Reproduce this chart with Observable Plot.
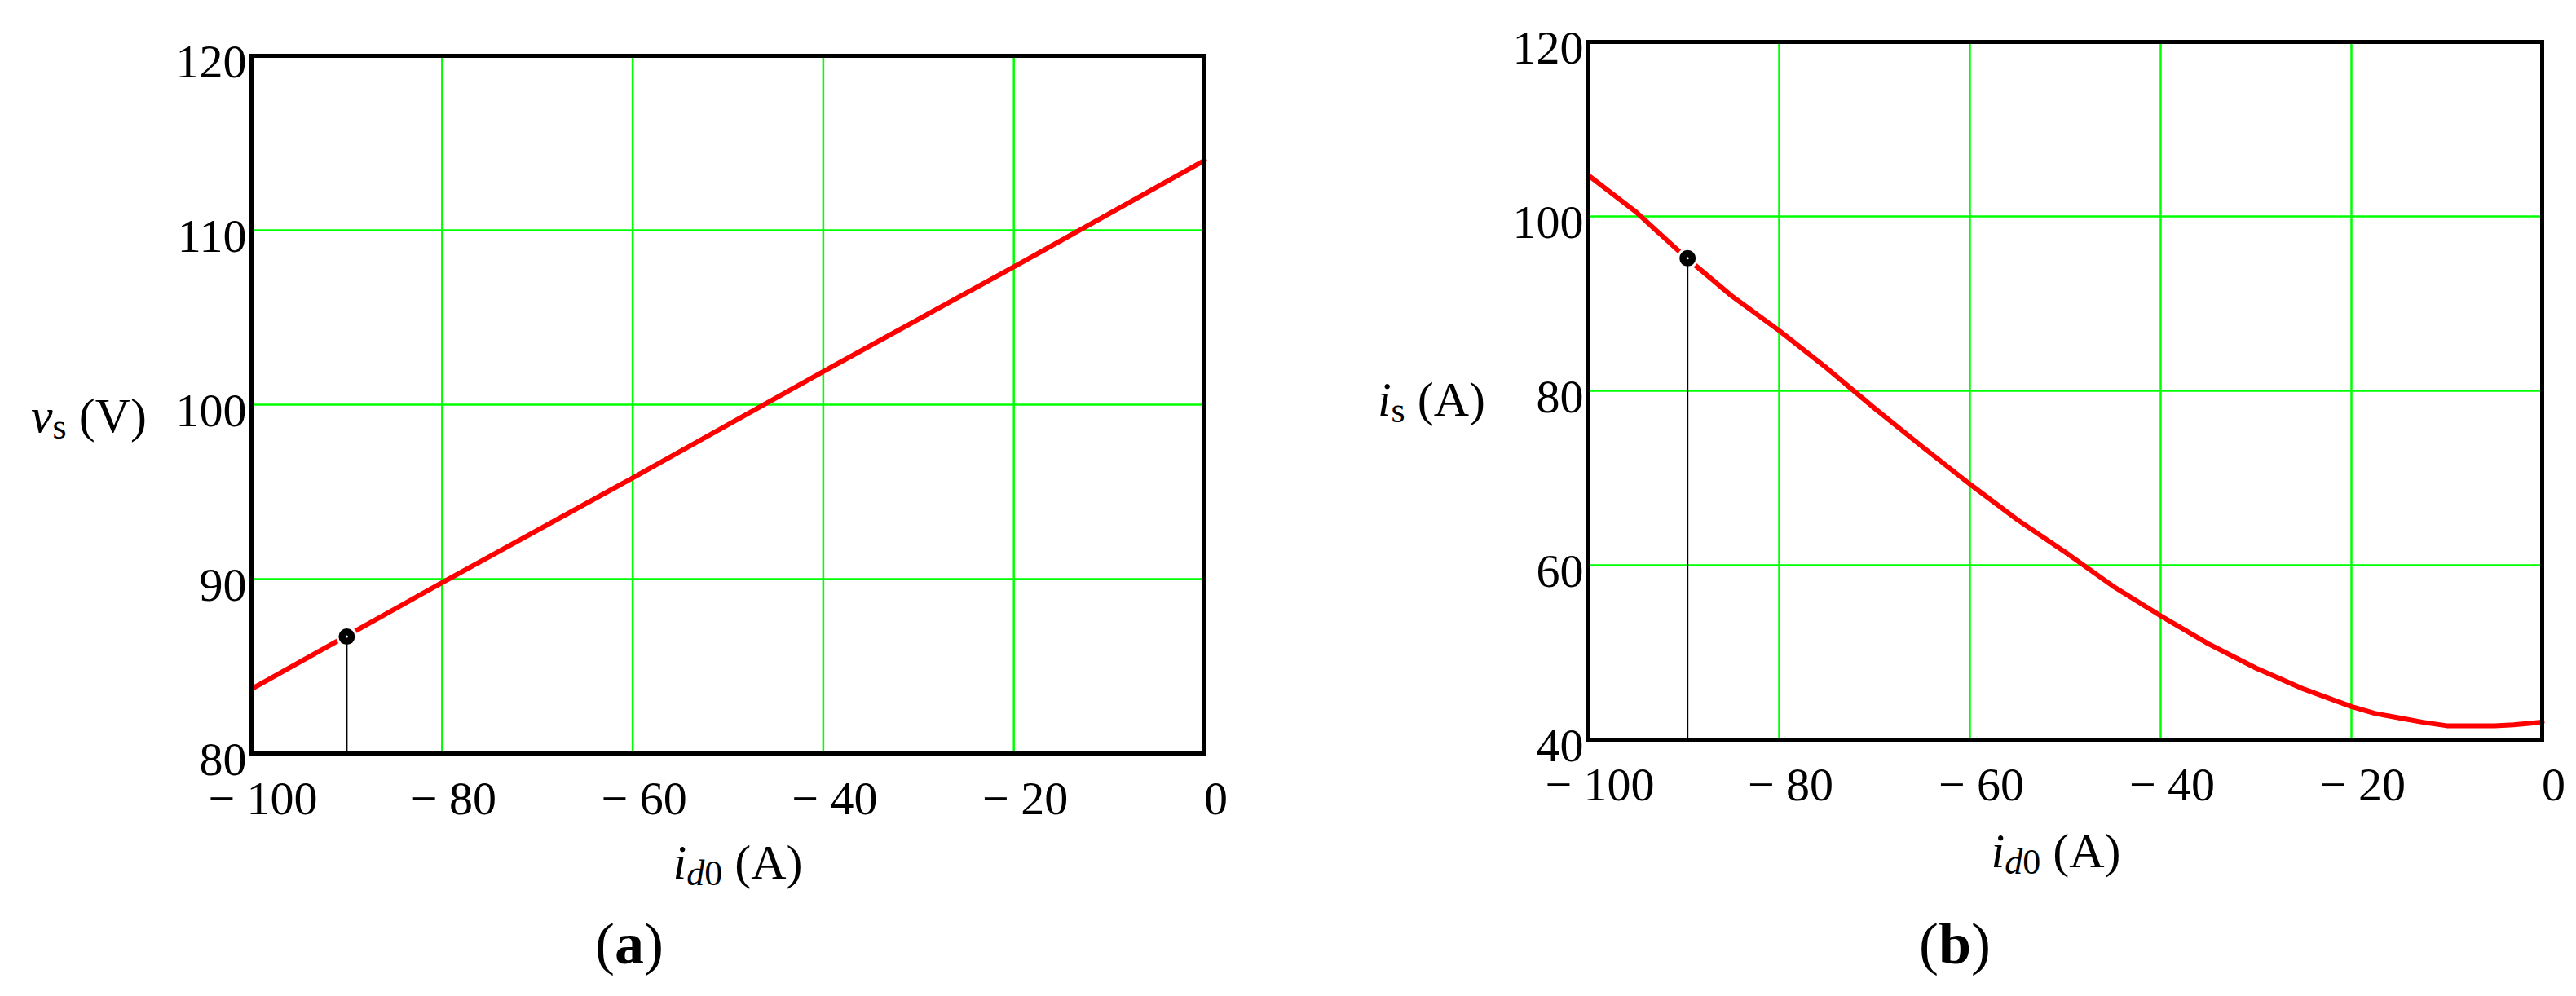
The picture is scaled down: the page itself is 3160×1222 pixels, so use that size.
<!DOCTYPE html>
<html><head><meta charset="utf-8">
<script src="https://cdn.jsdelivr.net/npm/d3@7"></script>
<script src="https://cdn.jsdelivr.net/npm/@observablehq/plot@0.6"></script>
<style>
body{margin:0;background:#fff;}
#wrap{position:relative;width:3160px;height:1222px;overflow:hidden;background:#fff;}
#wrap svg.plotp{position:absolute;top:0;}
#overlay{position:absolute;left:0;top:0;}
</style></head><body><div id="wrap"></div>
<script>
// ---- data ----
const xTicks = [-100, -80, -60, -40, -20, 0];
const yTicksA = [80, 90, 100, 110, 120];
const yTicksB = [40, 60, 80, 100, 120];
const idA = [-100, -80, -60, -40, -20, 0];
const vsA = [83.7, 89.8, 95.8, 101.9, 107.9, 114.0];
const idB = [-100, -95, -90, -85, -80, -75, -70, -65, -60, -55, -50, -45, -40, -35, -30, -25, -20, -17.5, -15, -12.5, -10, -5, -3, 0];
const isB = [104.7, 100.5, 95.5, 90.9, 86.9, 82.6, 78.0, 73.6, 69.3, 65.2, 61.5, 57.6, 54.2, 51.0, 48.2, 45.8, 43.8, 43.0, 42.5, 42.0, 41.6, 41.6, 41.7, 42.0];
const markerA = {x: -90, y: 86.7};
const markerB = {x: -89.6, y: 95.2};

const FONT = "Liberation Serif, Times New Roman, serif";

function panel({xs, ys, yDomain, yTicks, marker, width, mL, mR, mT, mB}) {
  const data = xs.map((x, i) => ({x, y: ys[i]}));
  const svg = Plot.plot({
    width, height: 1222,
    marginLeft: mL, marginRight: mR, marginTop: mT, marginBottom: mB,
    style: {fontFamily: FONT, fontSize: "58px", background: "transparent", color: "black", overflow: "visible"},
    x: {domain: [-100, 0]},
    y: {domain: yDomain},
    marks: [
      Plot.gridX(xTicks, {stroke: "#00ff00", strokeOpacity: 1, strokeWidth: 2.5}),
      Plot.gridY(yTicks, {stroke: "#00ff00", strokeOpacity: 1, strokeWidth: 2.5}),
      Plot.line(data, {x: "x", y: "y", stroke: "#ff0000", strokeWidth: 6}),
      Plot.dot([marker], {x: "x", y: "y", r: 13, fill: "white"}),
      Plot.ruleX([marker], {x: "x", y1: yDomain[0], y2: "y", stroke: "black", strokeWidth: 2}),
      Plot.dot([marker], {x: "x", y: "y", r: 10, fill: "black"}),
      Plot.dot([marker], {x: "x", y: "y", r: 1.5, fill: "white"}),
      Plot.frame({stroke: "black", strokeWidth: 5}),
      Plot.axisX(xTicks, {tickSize: 0, tickPadding: 33, dx: 14, fontSize: 58, label: null,
        tickFormat: d => d < 0 ? "\u2212 " + Math.abs(d) : String(d)}),
      Plot.axisY(yTicks, {tickSize: 0, tickPadding: 6, dy: 8, fontSize: 58, label: null})
    ]
  });
  svg.classList.add("plotp");
  return svg;
}

const wrap = document.getElementById("wrap");
const a = panel({xs: idA, ys: vsA, yDomain: [80, 120], yTicks: yTicksA, marker: markerA,
  width: 1600, mL: 308, mR: 123, mT: 68, mB: 298});
a.style.left = "0px";
const b = panel({xs: idB, ys: isB, yDomain: [40, 120], yTicks: yTicksB, marker: markerB,
  width: 1560, mL: 348, mR: 42, mT: 51, mB: 315});
b.style.left = "1600px";
wrap.appendChild(a);
wrap.appendChild(b);

// ---- titles & captions (rich text) ----
const ov = d3.select(wrap).append("svg").attr("id", "overlay")
  .attr("width", 3160).attr("height", 1222)
  .style("font-family", FONT).style("font-size", "60px");

function title(x, y, anchor, parts) {
  const t = ov.append("text").attr("x", x).attr("y", y).attr("text-anchor", anchor);
  for (const p of parts) {
    const s = t.append("tspan").text(p.t);
    if (p.i) s.attr("font-style", "italic");
    if (p.fs) s.attr("font-size", p.fs);
    if (p.dy) s.attr("dy", p.dy);
  }
}
// y titles
title(180, 530, "end", [{t: "v", i: 1}, {t: "s", fs: 44, dy: 8}, {t: " (V)", dy: -8}]);
title(1822, 510, "end", [{t: "i", i: 1}, {t: "s", fs: 44, dy: 8}, {t: " (A)", dy: -8}]);
// x titles
title(905, 1078, "middle", [{t: "i", i: 1}, {t: "d", i: 1, fs: 44, dy: 8}, {t: "0", fs: 44}, {t: " (A)", dy: -8}]);
title(2522, 1064, "middle", [{t: "i", i: 1}, {t: "d", i: 1, fs: 44, dy: 8}, {t: "0", fs: 44}, {t: " (A)", dy: -8}]);
// captions
function caption(x, letter) {
  ov.append("text").attr("x", x).attr("y", 1182).attr("text-anchor", "middle").style("font-size", "72px")
    .call(t => { t.append("tspan").text("("); t.append("tspan").attr("font-weight", "bold").text(letter); t.append("tspan").text(")"); });
}
caption(772, "a");
caption(2398, "b");
</script>
</body></html>
